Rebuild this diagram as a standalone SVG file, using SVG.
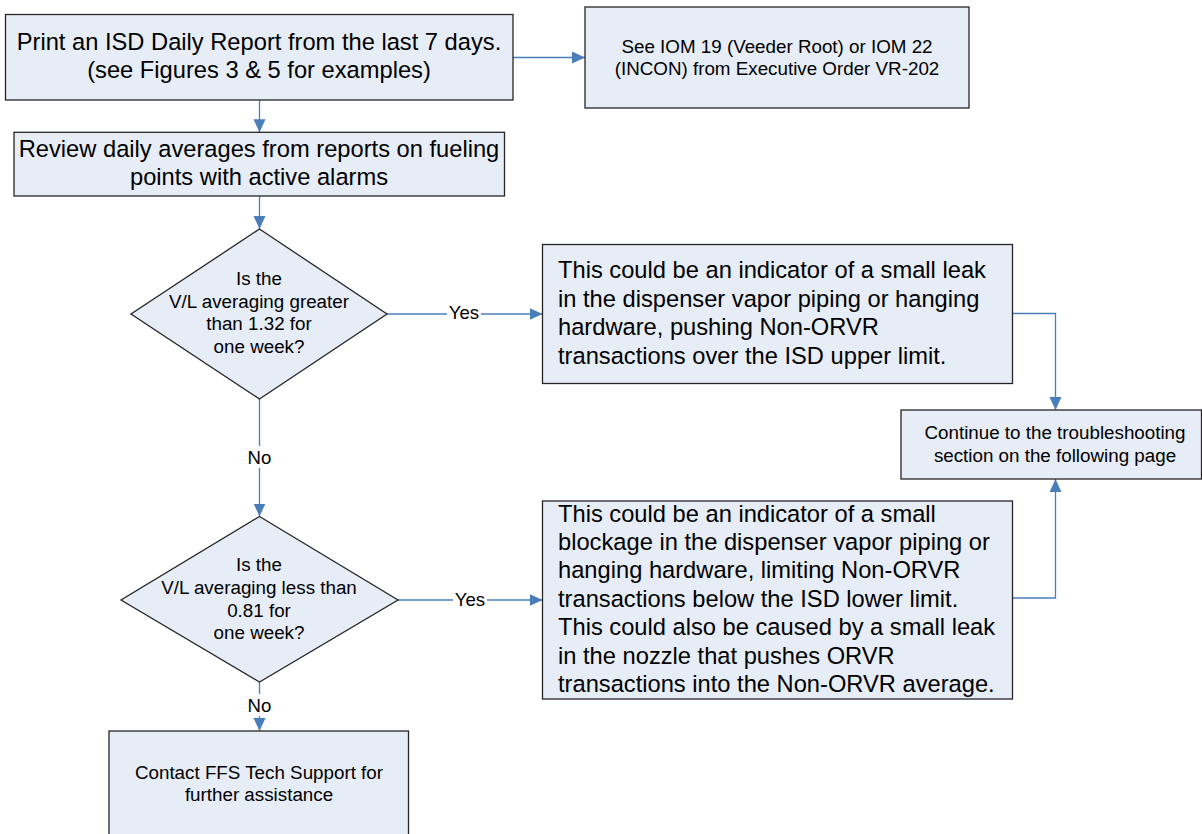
<svg xmlns="http://www.w3.org/2000/svg" width="1202" height="834" viewBox="0 0 1202 834">
  <style>
    .box { fill: #E7EDF7; stroke: #262626; stroke-width: 1.3; }
    .conn { fill: none; stroke: #4A7EBB; stroke-width: 1.3; }
    .lg { font-family: "Liberation Sans", Arial, sans-serif; font-size: 23.7px; fill: #000; }
    .sm { font-family: "Liberation Sans", Arial, sans-serif; font-size: 18.8px; fill: #000; }
    .mid { text-anchor: middle; }
    .lbl { font-family: "Liberation Sans", Arial, sans-serif; font-size: 18.6px; fill: #000; text-anchor: middle; }
    .lblbg { fill: #FFFFFF; }
  </style>
  <defs>
    <marker id="arrow" markerUnits="userSpaceOnUse" markerWidth="14" markerHeight="13" refX="13" refY="6" orient="auto">
      <path d="M0,0 L13,6 L0,12 z" fill="#4A7EBB"/>
    </marker>
  </defs>

  <!-- connectors -->
  <g id="connectors">
    <path class="conn" d="M513,57.5 H585" marker-end="url(#arrow)"/>
    <path class="conn" d="M259.5,100 V132.3" marker-end="url(#arrow)"/>
    <path class="conn" d="M259.5,196 V229" marker-end="url(#arrow)"/>
    <path class="conn" d="M387,314 H542.5" marker-end="url(#arrow)"/>
    <path class="conn" d="M259.5,399 V516.5" marker-end="url(#arrow)"/>
    <path class="conn" d="M398,600 H542.5" marker-end="url(#arrow)"/>
    <path class="conn" d="M259.5,682 V731" marker-end="url(#arrow)"/>
    <path class="conn" d="M1012.5,313.5 H1055.5 V410" marker-end="url(#arrow)"/>
    <path class="conn" d="M1012.5,598 H1055.5 V479" marker-end="url(#arrow)"/>
    <!-- connector labels -->
    <rect class="lblbg" x="447" y="302" width="34" height="22"/>
    <text class="lbl" x="464" y="319">Yes</text>
    <rect class="lblbg" x="453" y="588" width="34" height="22"/>
    <text class="lbl" x="470" y="605.5">Yes</text>
    <rect class="lblbg" x="247" y="446" width="25" height="22"/>
    <text class="lbl" x="259.5" y="464">No</text>
    <rect class="lblbg" x="247" y="694" width="25" height="22"/>
    <text class="lbl" x="259.5" y="712">No</text>
  </g>

  <g id="print-report">
    <rect class="box" x="5.5" y="14.5" width="507.5" height="85.5"/>
    <text class="lg mid" x="259" y="50">Print an ISD Daily Report from the last 7 days.</text>
    <text class="lg mid" x="259" y="78">(see Figures 3 &amp; 5 for examples)</text>
  </g>

  <g id="see-iom">
    <rect class="box" x="585" y="7" width="384" height="101"/>
    <text class="sm mid" x="777" y="53.3">See IOM 19 (Veeder Root) or IOM 22</text>
    <text class="sm mid" x="777" y="74.8">(INCON) from Executive Order VR-202</text>
  </g>

  <g id="review-averages">
    <rect class="box" x="14" y="132.3" width="490.5" height="63.7"/>
    <text class="lg mid" x="259" y="156.7">Review daily averages from reports on fueling</text>
    <text class="lg mid" x="259" y="185">points with active alarms</text>
  </g>

  <g id="decision-high">
    <polygon class="box" points="259.5,229 387,314 259.5,399 131,314"/>
    <text class="sm mid" x="259" y="285">Is the</text>
    <text class="sm mid" x="259" y="307.7">V/L averaging greater</text>
    <text class="sm mid" x="259" y="330.4">than 1.32 for</text>
    <text class="sm mid" x="259" y="353.1">one week?</text>
  </g>

  <g id="leak-indicator">
    <rect class="box" x="542.5" y="244.5" width="470" height="139"/>
    <text class="lg" x="558" y="278">This could be an indicator of a small leak</text>
    <text class="lg" x="558" y="306.5">in the dispenser vapor piping or hanging</text>
    <text class="lg" x="558" y="335">hardware, pushing Non-ORVR</text>
    <text class="lg" x="558" y="363.5">transactions over the ISD upper limit.</text>
  </g>

  <g id="continue-troubleshooting">
    <rect class="box" x="901" y="410" width="300.5" height="69"/>
    <text class="sm mid" x="1055" y="439">Continue to the troubleshooting</text>
    <text class="sm mid" x="1055" y="461.7">section on the following page</text>
  </g>

  <g id="decision-low">
    <polygon class="box" points="259.5,516.5 398,600 259.5,682 121,600"/>
    <text class="sm mid" x="259" y="571">Is the</text>
    <text class="sm mid" x="259" y="593.8">V/L averaging less than</text>
    <text class="sm mid" x="259" y="616.6">0.81 for</text>
    <text class="sm mid" x="259" y="639.4">one week?</text>
  </g>

  <g id="blockage-indicator">
    <rect class="box" x="542.5" y="501" width="470" height="198"/>
    <text class="lg" x="558" y="521.5">This could be an indicator of a small</text>
    <text class="lg" x="558" y="549.9">blockage in the dispenser vapor piping or</text>
    <text class="lg" x="558" y="578.3">hanging hardware, limiting Non-ORVR</text>
    <text class="lg" x="558" y="606.7">transactions below the ISD lower limit.</text>
    <text class="lg" x="558" y="635.1">This could also be caused by a small leak</text>
    <text class="lg" x="558" y="663.5">in the nozzle that pushes ORVR</text>
    <text class="lg" x="558" y="691.9">transactions into the Non-ORVR average.</text>
  </g>

  <g id="contact-support">
    <rect class="box" x="109" y="731" width="299.5" height="110"/>
    <text class="sm mid" x="259" y="779">Contact FFS Tech Support for</text>
    <text class="sm mid" x="259" y="801">further assistance</text>
  </g>
</svg>
